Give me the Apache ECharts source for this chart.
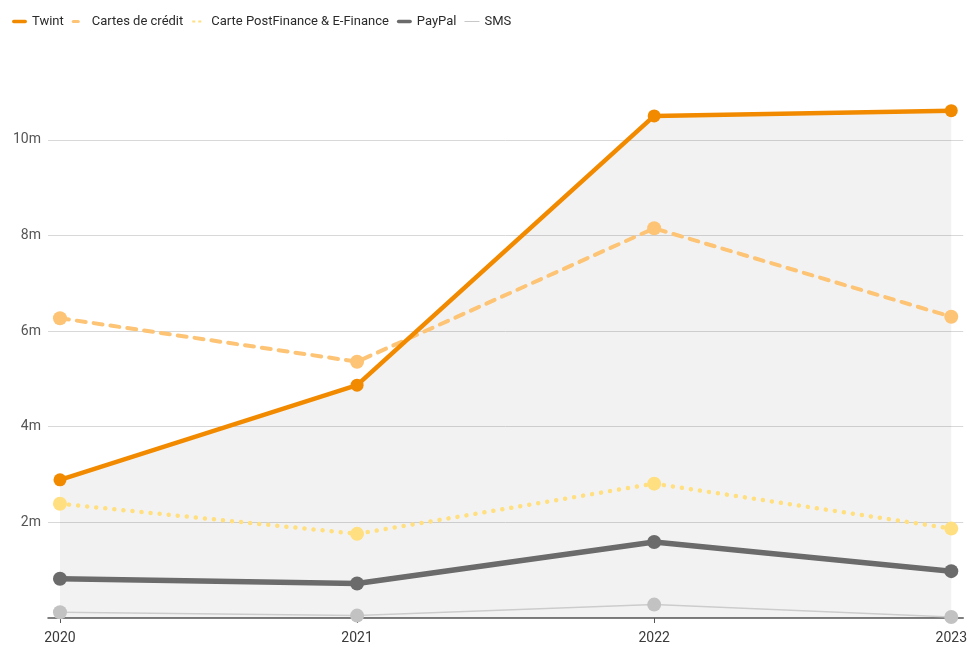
<!DOCTYPE html>
<html>
<head>
<meta charset="utf-8">
<script src="https://cdn.jsdelivr.net/npm/echarts@6/dist/echarts.min.js"></script>
<style>
html,body{margin:0;padding:0;background:#fff;}
#main{width:970px;height:646px;}
</style>
</head>
<body>
<div id="main"></div>
<script>
const years = [2020, 2021, 2022, 2023];
const yTicks = [2e6, 4e6, 6e6, 8e6, 10e6];
const twint = [2.89e6, 4.87e6, 10.50e6, 10.61e6];
const cartesCredit = [6.27e6, 5.36e6, 8.15e6, 6.30e6];
const postFinance = [2.39e6, 1.76e6, 2.81e6, 1.87e6];
const paypal = [0.82e6, 0.72e6, 1.59e6, 0.98e6];
const sms = [0.12e6, 0.05e6, 0.28e6, 0.02e6];

const names = ['Twint', 'Cartes de crédit', 'Carte PostFinance & E-Finance', 'PayPal', 'SMS'];
const colors = ['#f28a00', '#fdc476', '#ffdf80', '#6b6b6b', '#c2c2c2'];

function pairs(vals) { return vals.map((v, i) => [years[i], v]); }

const chart = echarts.init(document.getElementById('main'), null, {renderer: 'canvas'});

function lineSeries(name, vals, color, width, type, symSize, z, lineColor) {
  return {
    name: name, type: 'line', data: pairs(vals), z: z,
    symbol: 'circle', symbolSize: symSize, showSymbol: true,
    itemStyle: {color: color},
    lineStyle: {color: lineColor || color, width: width, type: type, cap: 'round', join: 'round'},
    emphasis: {disabled: true},
    animation: false
  };
}

const option = {
  animation: false,
  color: colors,
  textStyle: {fontFamily: 'Roboto'},
  legend: {
    left: 7, top: 10,
    itemWidth: 15, itemHeight: 6, itemGap: 8,
    textStyle: {fontFamily: 'Roboto', fontSize: 13, color: '#2a2a2a'},
    data: [
      {name: names[0], icon: 'path://M0,0M15,6M1.5,1.2h12a1.8,1.8 0 0 1 0,3.6h-12a1.8,1.8 0 0 1 0,-3.6z'},
      {name: names[1], icon: 'path://M0,0M15,6M1.5,1.5h5a1.5,1.5 0 0 1 0,3h-5a1.5,1.5 0 0 1 0,-3z'},
      {name: names[2], icon: 'path://M0,0M15,6M1,2h3v2h-3zM7,2h3v2h-3z'},
      {name: names[3], icon: 'path://M0,0M15,6M1.5,1.2h12a1.8,1.8 0 0 1 0,3.6h-12a1.8,1.8 0 0 1 0,-3.6z'},
      {name: names[4], icon: 'path://M0,0M15,6M0,2.6h15v0.9h-15z'}
    ]
  },
  grid: {left: 48, right: 5, top: 92, bottom: 28},
  xAxis: {
    type: 'value',
    min: 2020 - 12 / 297.67,
    max: 2023 + 12 / 297.67,
    interval: 1,
    axisLine: {show: true, onZero: false, lineStyle: {color: '#555', width: 1.5}},
    axisTick: {show: true, length: 5, customValues: years, lineStyle: {color: '#555', width: 1}},
    axisLabel: {customValues: years, color: '#3a3a3a', fontSize: 14, fontFamily: 'Roboto', margin: 13,
      formatter: v => String(Math.round(v))},
    splitLine: {show: false}
  },
  yAxis: {
    type: 'value',
    min: 0, max: 11e6, interval: 2e6,
    axisLine: {show: false},
    axisTick: {show: false},
    axisLabel: {customValues: yTicks, color: '#555', fontSize: 14, fontFamily: 'Roboto', margin: 7,
      formatter: v => (v / 1e6) + 'm'},
    splitLine: {show: true, showMinLine: false, showMaxLine: false, lineStyle: {color: '#d8d8d8', width: 1}}
  },
  series: [
    {
      name: 'area', type: 'line', data: pairs(twint), z: 1,
      symbol: 'none', lineStyle: {width: 0, opacity: 0},
      areaStyle: {color: 'rgba(0,0,0,0.075)', origin: 'start'},
      emphasis: {disabled: true}, silent: true, animation: false
    },
    lineSeries(names[4], sms, '#c2c2c2', 1.5, 'solid', 14, 2, '#cccccc'),
    lineSeries(names[3], paypal, colors[3], 5.5, 'solid', 14, 3),
    lineSeries(names[2], postFinance, colors[2], 4.5, [0.1, 9], 14, 4),
    lineSeries(names[1], cartesCredit, colors[1], 4, [9, 8], 14, 5),
    lineSeries(names[0], twint, colors[0], 4.5, 'solid', 13, 6)
  ]
};
chart.setOption(option);
</script>
</body>
</html>
